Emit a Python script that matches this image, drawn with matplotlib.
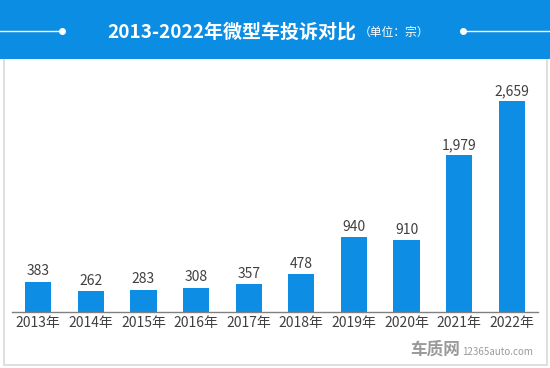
import matplotlib
matplotlib.use("Agg")
import matplotlib.pyplot as plt
from matplotlib.patches import Rectangle
from matplotlib.lines import Line2D

plt.rcParams['font.family'] = ['Noto Sans CJK SC', 'DejaVu Sans']

years = ["2013年", "2014年", "2015年", "2016年", "2017年",
         "2018年", "2019年", "2020年", "2021年", "2022年"]
complaints = [383, 262, 283, 308, 357, 478, 940, 910, 1979, 2659]
title = "2013-2022年微型车投诉对比"
unit = "（单位：宗）"

W, H = 550, 368
fig = plt.figure(figsize=(5.5, 3.68), dpi=100)
fig.patch.set_facecolor("white")

def fx(px):
    return px / W

def fy(py):
    return 1 - py / H

# border of the panel
fig.add_artist(Rectangle((fx(4), fy(365)), fx(543), (365 - 58) / H,
                         transform=fig.transFigure, fill=False,
                         edgecolor="#d9d9d9", lw=1.2))
# header band
fig.add_artist(Rectangle((0, fy(59)), 1, 59 / H, transform=fig.transFigure,
                         facecolor="#0a8de2", edgecolor="none"))
# decorative lines
fig.add_artist(Line2D([0, fx(62)], [fy(31), fy(31)], transform=fig.transFigure,
                      color="white", lw=1))
fig.add_artist(Line2D([fx(62)], [fy(31)], transform=fig.transFigure,
                      color="white", marker="o", ms=4))
fig.add_artist(Line2D([fx(463), 1], [fy(31), fy(31)], transform=fig.transFigure,
                      color="white", lw=1))
fig.add_artist(Line2D([fx(463)], [fy(31)], transform=fig.transFigure,
                      color="white", marker="o", ms=4))
fig.text(fx(356), fy(32), title, color="white", fontsize=13.7, fontweight="bold",
         ha="right", va="center")
fig.text(fx(359), fy(32), unit, color="white", fontsize=8.5,
         ha="left", va="center")

ax = fig.add_axes([fx(12), fy(312), fx(526), (312 - 70) / H])
x = list(range(len(years)))
bars = ax.bar(x, complaints, width=0.5, color="#0d8de3", zorder=2)
ax.set_xlim(-0.5, len(years) - 0.5)
ax.set_ylim(0, 3050)
for xi, v in zip(x, complaints):
    ax.text(xi, v + 40, f"{v:,}", ha="center", va="bottom",
            fontsize=10, color="#404040")
ax.set_xticks(x)
ax.set_xticklabels(years, fontsize=10, color="#404040")
ax.tick_params(axis="x", length=0, pad=3)
ax.set_yticks([])
for s in ["top", "right", "left"]:
    ax.spines[s].set_visible(False)
ax.spines["bottom"].set_color("#808080")
ax.spines["bottom"].set_linewidth(1)
ax.patch.set_alpha(0)

# watermark
fig.text(fx(435), fy(350), "车质网", color="#9a9a9a", fontsize=12,
         fontweight="bold", ha="center", va="center")
fig.text(fx(533), fy(352), "12365auto.com", color="#9a9a9a", fontsize=7,
         ha="right", va="center")

fig.savefig("out.png", dpi=100)
